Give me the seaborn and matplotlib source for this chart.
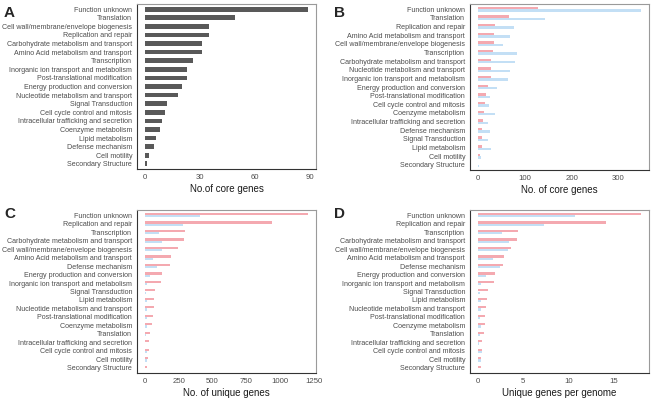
import pandas as pd
import numpy as np
import matplotlib
matplotlib.use("Agg")
import matplotlib.pyplot as plt
import seaborn as sns

sns.set_theme(style="white")
plt.rcParams['font.family'] = ['Liberation Sans', 'DejaVu Sans']

# panel A: core genes (single series)
cats_a = ["Function unknown", "Translation", "Cell wall/membrane/envelope biogenesis",
          "Replication and repair", "Carbohydrate metabolism and transport",
          "Amino Acid metabolism and transport", "Transcription",
          "Inorganic ion transport and metabolism", "Post-translational modification",
          "Energy production and conversion", "Nucleotide metabolism and transport",
          "Signal Transduction", "Cell cycle control and mitosis",
          "Intracellular trafficking and secretion", "Coenzyme metabolism",
          "Lipid metabolism", "Defense mechanism", "Cell motility", "Secondary Structure"]
core_a = [89, 49, 35, 35, 31, 31, 26, 23, 23, 20, 18, 12, 11, 9, 8, 6, 5, 2, 1]

# panel B: core genes, two groups
cats_b = ["Function unknown", "Translation", "Replication and repair",
          "Amino Acid metabolism and transport", "Cell wall/membrane/envelope biogenesis",
          "Transcription", "Carbohydrate metabolism and transport",
          "Nucleotide metabolism and transport", "Inorganic ion transport and metabolism",
          "Energy production and conversion", "Post-translational modification",
          "Cell cycle control and mitosis", "Coenzyme metabolism",
          "Intracellular trafficking and secretion", "Defense mechanism",
          "Signal Transduction", "Lipid metabolism", "Cell motility", "Secondary Structure"]
core_b_g1 = [127, 67, 37, 34, 33, 31, 28, 28, 27, 21, 17, 15, 12, 11, 8, 8, 8, 3, 0.5]
core_b_g2 = [348, 144, 77, 68, 53, 83, 78, 68, 64, 41, 25, 23, 35, 22, 26, 21, 28, 6, 2]

# panels C and D: unique genes, same category order
cats_cd = ["Function unknown", "Replication and repair", "Transcription",
           "Carbohydrate metabolism and transport", "Cell wall/membrane/envelope biogenesis",
           "Amino Acid metabolism and transport", "Defense mechanism",
           "Energy production and conversion", "Inorganic ion transport and metabolism",
           "Signal Transduction", "Lipid metabolism", "Nucleotide metabolism and transport",
           "Post-translational modification", "Coenzyme metabolism", "Translation",
           "Intracellular trafficking and secretion", "Cell cycle control and mitosis",
           "Cell motility", "Secondary Structure"]
uniq_g1 = [1208, 942, 296, 288, 244, 190, 185, 126, 118, 74, 67, 64, 57, 49, 39, 27, 25, 20, 17]
uniq_g2 = [404, 279, 101, 128, 126, 62, 89, 35, 15, 10, 12, 12, 12, 15, 10, 2, 17, 12, 1]
per_genome_g1 = [18.0, 14.1, 4.41, 4.3, 3.68, 2.87, 2.79, 1.91, 1.8, 1.1, 0.96, 0.92,
                 0.81, 0.77, 0.63, 0.44, 0.4, 0.33, 0.3]
per_genome_g2 = [10.7, 7.24, 2.68, 3.38, 3.35, 1.62, 2.39, 0.85, 0.37, 0.22, 0.37, 0.3,
                 0.26, 0.3, 0.22, 0.05, 0.4, 0.3, 0.04]

groups = ["group 1", "group 2"]
pal = {"group 1": "#F4A9B0", "group 2": "#C3DFF5"}

W, H = 654, 400


def two_group_df(cats, v1, v2):
    return pd.DataFrame({
        "category": cats + cats,
        "value": v1 + v2,
        "group": [groups[0]] * len(cats) + [groups[1]] * len(cats),
    })


def style_axis(ax, xmax, ticks, xlabel, letter, letter_xy):
    ax.set_xlim(-0.05 * xmax, 1.05 * xmax)
    ax.set_ylim(len(cats_a) - 0.4, -0.6)
    ax.set_xticks(ticks)
    ax.set_xlabel(xlabel, fontsize=7, color="#1a1a1a", labelpad=2)
    ax.set_ylabel("")
    ax.tick_params(axis="both", length=2, width=0.6, color="#333333", pad=1.5,
                   labelcolor="#4D4D4D")
    ax.tick_params(axis="y", labelsize=5.1)
    ax.tick_params(axis="x", labelsize=5.6)
    for side in ["top", "right"]:
        ax.spines[side].set_color("#9a9a9a")
        ax.spines[side].set_linewidth(0.8)
    for side in ["left", "bottom"]:
        ax.spines[side].set_color("#333333")
        ax.spines[side].set_linewidth(0.8)
    ax.grid(False)
    leg = ax.get_legend()
    if leg is not None:
        leg.remove()
    ax.figure.text(letter_xy[0] / W, 1 - letter_xy[1] / H, letter,
                   fontsize=11, fontweight="bold", ha="left", va="center")


fig = plt.figure(figsize=(6.54, 4.0), dpi=100)
boxes = {
    "A": (137, 4, 316, 169),
    "B": (470, 4, 649, 170),
    "C": (137, 210, 316, 373),
    "D": (470, 210, 649, 373),
}
axes = {}
for k, (x0, y0, x1, y1) in boxes.items():
    axes[k] = fig.add_axes([x0 / W, 1 - y1 / H, (x1 - x0) / W, (y1 - y0) / H])

df_a = pd.DataFrame({"category": cats_a, "value": core_a})
sns.barplot(data=df_a, x="value", y="category", color="#595959", width=0.55,
            saturation=1, linewidth=0, ax=axes["A"])
style_axis(axes["A"], max(core_a), [0, 30, 60, 90], "No.of core genes", "A", (4, 13))

df_b = two_group_df(cats_b, core_b_g1, core_b_g2)
sns.barplot(data=df_b, x="value", y="category", hue="group", hue_order=groups,
            palette=pal, width=0.55, saturation=1, linewidth=0, ax=axes["B"])
style_axis(axes["B"], max(core_b_g2), [0, 100, 200, 300], "No. of core genes", "B",
           (334, 13))

df_c = two_group_df(cats_cd, uniq_g1, uniq_g2)
sns.barplot(data=df_c, x="value", y="category", hue="group", hue_order=groups,
            palette=pal, width=0.55, saturation=1, linewidth=0, ax=axes["C"])
style_axis(axes["C"], max(uniq_g1), [0, 250, 500, 750, 1000, 1250],
           "No. of unique genes", "C", (4, 214))

df_d = two_group_df(cats_cd, per_genome_g1, per_genome_g2)
sns.barplot(data=df_d, x="value", y="category", hue="group", hue_order=groups,
            palette=pal, width=0.55, saturation=1, linewidth=0, ax=axes["D"])
style_axis(axes["D"], max(per_genome_g1), [0, 5, 10, 15], "Unique genes per genome", "D",
           (334, 214))

fig.savefig("out.png", dpi=100)
